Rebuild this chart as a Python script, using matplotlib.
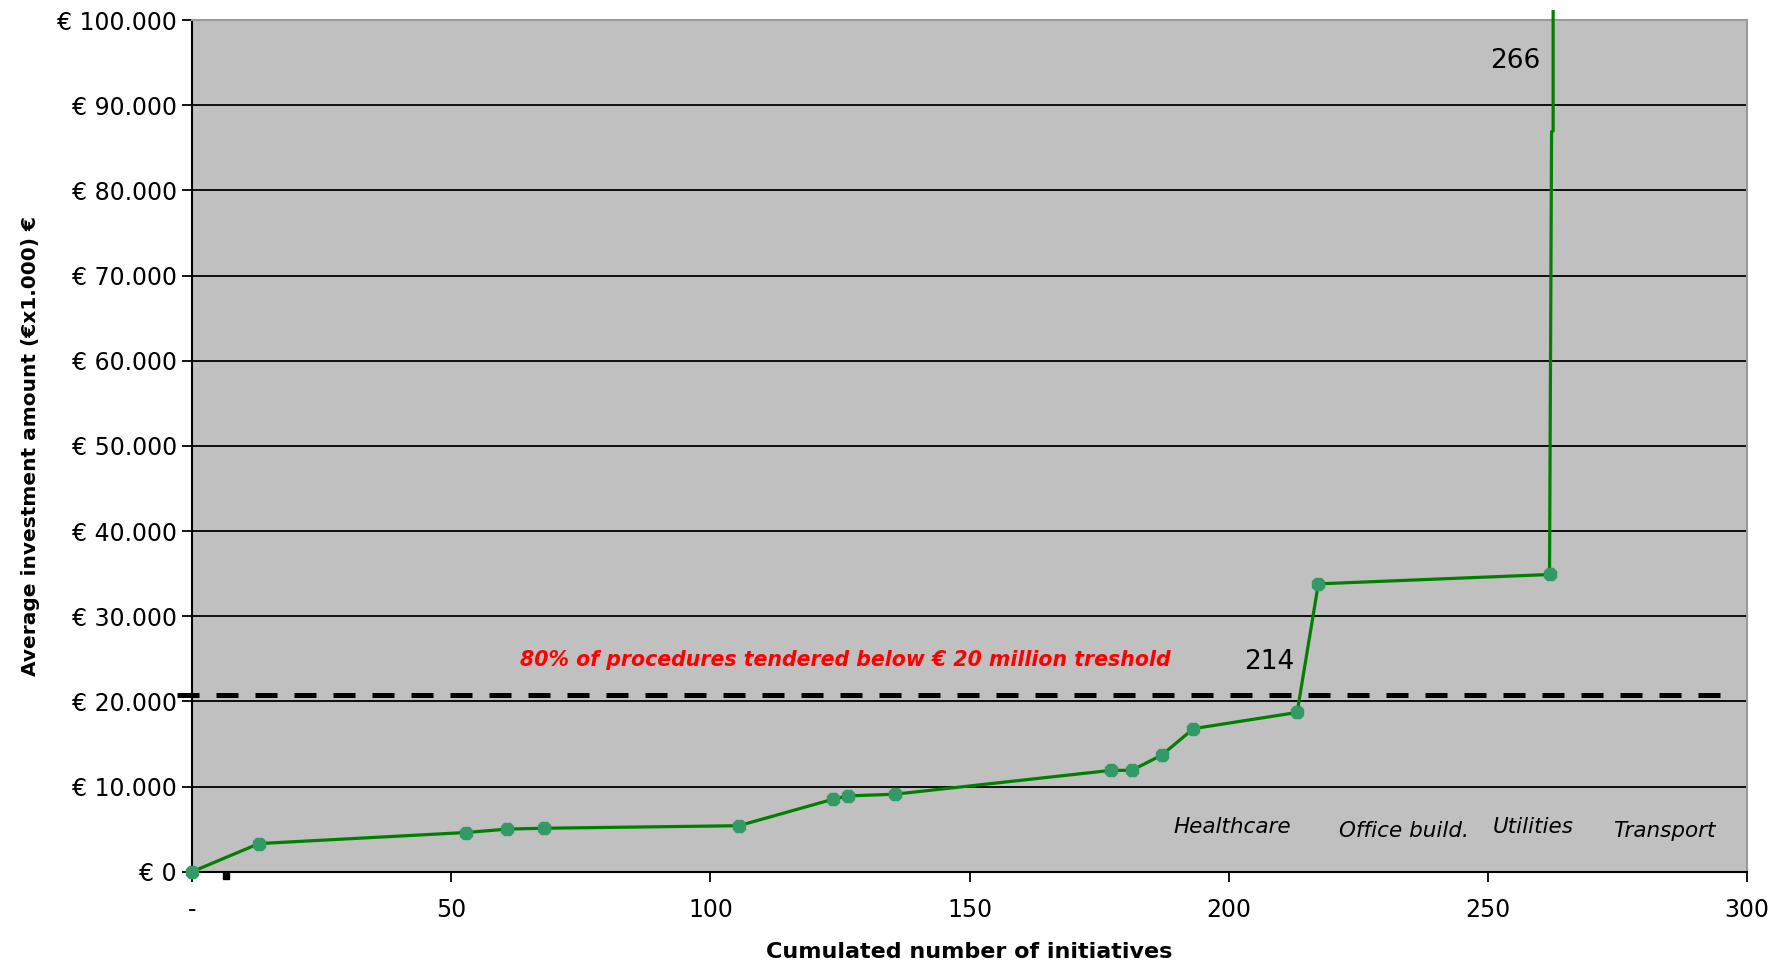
import matplotlib
matplotlib.use("Agg")
import matplotlib.pyplot as plt
from matplotlib.ticker import FuncFormatter, MultipleLocator

plt.rcParams["font.family"] = ["DejaVu Sans"]

# cumulated number of initiatives vs average investment amount (x1000 EUR)
initiatives = [0, 12.9, 52.8, 60.8, 67.8, 105.5, 123.6, 126.5, 135.6,
               177.3, 181.3, 187.1, 193.2, 213.2, 217.3, 261.9]
amounts = [0, 3300, 4600, 5000, 5100, 5400, 8500, 8900, 9100,
           11900, 11900, 13700, 16800, 18700, 33800, 34900]

# last step shoots off the top of the chart
tail_x = [261.9, 262.3, 262.6, 262.6]
tail_y = [34900, 86900, 87000, 101000]

threshold = 20700
sectors = ["Healthcare", "Office build.", "Utilities", "Transport"]
sector_x = [200.7, 233.9, 258.8, 284.0]
sector_y = [5200, 4800, 5200, 4800]

fig = plt.figure(figsize=(17.79, 9.6), dpi=100)
ax = fig.add_axes([0.108, 0.092, 0.874, 0.887])
ax.set_facecolor("#c0c0c0")

ax.set_xlim(0, 300)
ax.set_ylim(0, 100000)
ax.yaxis.set_major_locator(MultipleLocator(10000))
ax.xaxis.set_major_locator(MultipleLocator(50))
ax.grid(True, axis="y", color="black", linewidth=1.3)
ax.set_axisbelow(True)

ax.yaxis.set_major_formatter(FuncFormatter(
    lambda v, p: "€ 0" if v == 0 else "€ " + f"{int(v):,}".replace(",", ".")))
ax.xaxis.set_major_formatter(FuncFormatter(
    lambda v, p: "-" if v == 0 else f"{int(v)}"))
ax.tick_params(axis="both", direction="out", length=7, width=1.3,
               labelsize=17, colors="black")
ax.tick_params(axis="x", pad=12)
ax.tick_params(axis="y", pad=4)

for s in ["top", "right"]:
    ax.spines[s].set_color("#9a9a9a")
    ax.spines[s].set_linewidth(1.5)
for s in ["left", "bottom"]:
    ax.spines[s].set_color("black")
    ax.spines[s].set_linewidth(1.5)

# threshold line
ax.plot([-3, 298], [threshold, threshold], color="black", linewidth=3.6,
        dashes=(4.4, 3.4), clip_on=False, zorder=3)

ax.plot(tail_x, tail_y, color="#008000", linewidth=2.3, clip_on=False, zorder=4)
ax.plot(initiatives, amounts, color="#008000", linewidth=2.3, marker="8",
        markersize=9.5, markerfacecolor="#339966", markeredgecolor="#339966",
        clip_on=False, zorder=5)
ax.plot([6.5], [-450], marker="s", markersize=4, color="black", clip_on=False)

ax.text(126, 24900, "80% of procedures tendered below € 20 million treshold",
        color="red", fontsize=14.8, fontweight="bold", fontstyle="italic",
        ha="center", va="center")
ax.text(207.8, 24600, "214", fontsize=19, ha="center", va="center")
ax.text(255.2, 95200, "266", fontsize=19, ha="center", va="center")

for name, sx, sy in zip(sectors, sector_x, sector_y):
    ax.text(sx, sy, name, fontsize=15.5, fontstyle="italic", ha="center", va="center")

ax.set_xlabel("Cumulated number of initiatives", fontsize=16, fontweight="bold", labelpad=14)
ax.set_ylabel("Average investment amount (€x1.000) €", fontsize=14.5, fontweight="bold", labelpad=12)

fig.savefig("out.png", dpi=100)
